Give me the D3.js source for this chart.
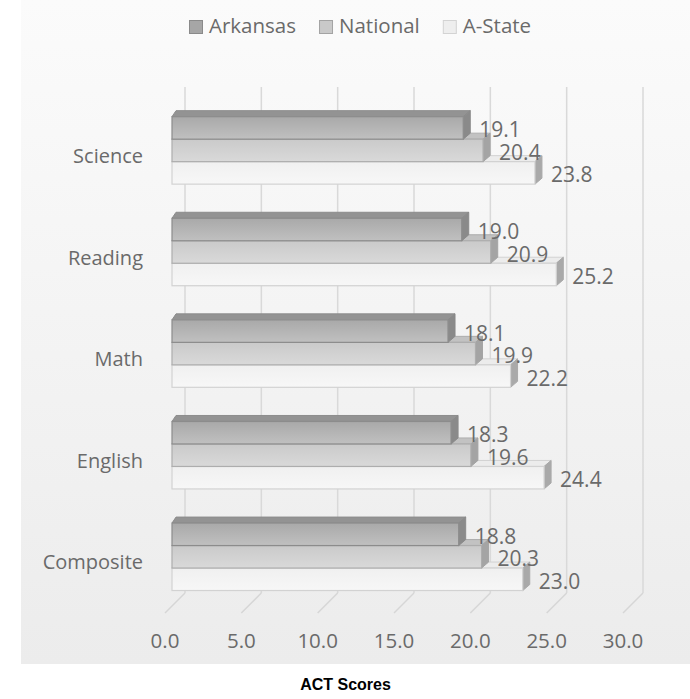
<!DOCTYPE html>
<html><head><meta charset="utf-8">
<script src="https://cdn.jsdelivr.net/npm/d3@7"></script>
<style>html,body{margin:0;padding:0;background:#fff;}svg{display:block;}</style>
</head><body>
<script>
const categories = ["Science", "Reading", "Math", "English", "Composite"];
const seriesNames = ["Arkansas", "National", "A-State"];
const arkansas = [19.1, 19.0, 18.1, 18.3, 18.8];
const national = [20.4, 20.9, 19.9, 19.6, 20.3];
const astate = [23.8, 25.2, 22.2, 24.4, 23.0];
const ticks = [0, 5, 10, 15, 20, 25, 30];
const title = "ACT Scores";

const series = [arkansas, national, astate];
const styles = [
  {top:"#a9a9a9", bot:"#c0c0c0", lid:"#939393", side:"#8a8a8a", stroke:"#8c8c8c", sw:"#a6a6a6", swb:"#8a8a8a"},
  {top:"#cacaca", bot:"#d9d9d9", lid:"#c2c2c2", side:"#a4a4a4", stroke:"#adadad", sw:"#c9c9c9", swb:"#a3a3a3"},
  {top:"#f0f0f0", bot:"#f7f7f7", lid:"#ececec", side:"#a9a9a9", stroke:"#d2d2d2", sw:"#eeeeee", swb:"#d3d3d3"}
];

const W = 690, H = 699;
const svg = d3.select("body").append("svg").attr("width", W).attr("height", H);
const defs = svg.append("defs");
const bg = defs.append("linearGradient").attr("id","bg").attr("x1",0).attr("y1",0).attr("x2",0).attr("y2",1);
bg.append("stop").attr("offset","0%").attr("stop-color","#fbfbfb");
bg.append("stop").attr("offset","100%").attr("stop-color","#ececec");
styles.forEach((s,i)=>{
  const g = defs.append("linearGradient").attr("id","g"+i).attr("x1",0).attr("y1",0).attr("x2",0).attr("y2",1);
  g.append("stop").attr("offset","0%").attr("stop-color",s.top);
  g.append("stop").attr("offset","100%").attr("stop-color",s.bot);
});

svg.append("rect").attr("x",21).attr("y",0).attr("width",W-21).attr("height",664).attr("fill","url(#bg)");

const font = "'Open Sans', 'Noto Sans', sans-serif";
const textCol = "#6a6a6a";

// scales
const xFront = d3.scaleLinear().domain([0,30]).range([172, 629.5]);
const xWall = d3.scaleLinear().domain([0,30]).range([185, 643]);
const xFloor = d3.scaleLinear().domain([0,30]).range([165, 623]);
const yBand = d3.scaleBand().domain(categories).range([99.6, 607.6]).paddingInner(0.336).paddingOuter(0.168);
const ySub = d3.scaleBand().domain(seriesNames).range([0, yBand.bandwidth()]);

const wallTop = 87, wallBot = 593, floorFront = 613;

// back wall gridlines
svg.append("g").selectAll("line").data(ticks).join("line")
  .attr("x1", d=>xWall(d)).attr("x2", d=>xWall(d))
  .attr("y1", wallTop).attr("y2", wallBot)
  .attr("stroke","#d9d9d9").attr("stroke-width",1.5);
// floor lines
svg.append("g").selectAll("line").data(ticks).join("line")
  .attr("x1", d=>xWall(d)).attr("x2", d=>xFloor(d))
  .attr("y1", wallBot).attr("y2", floorFront)
  .attr("stroke","#d6d6d6").attr("stroke-width",1.5);

// tick labels
svg.append("g").selectAll("text").data(ticks).join("text")
  .attr("x", d=>xFloor(d)).attr("y", 648)
  .attr("text-anchor","middle").attr("font-family",font).attr("font-size",20.5)
  .attr("fill",textCol).text(d=>d.toFixed(1));

// category labels
svg.append("g").selectAll("text").data(categories).join("text")
  .attr("x", 143).attr("y", d=>yBand(d)+yBand.bandwidth()/2+12.5)
  .attr("text-anchor","end").attr("font-family",font).attr("font-size",20)
  .attr("fill",textCol).text(d=>d);

// bars
const dxL = 4, dxR = 7, dy = 6;
const barsG = svg.append("g");
categories.forEach((cat, ci)=>{
  for (let si = series.length-1; si >= 0; si--) {
    const v = series[si][ci];
    const s = styles[si];
    const y0 = yBand(cat) + ySub(seriesNames[si]);
    const h = ySub.bandwidth();
    const x0 = xFront(0), x1 = xFront(v);
    const g = barsG.append("g");
    // top face
    g.append("path").attr("d", `M${x0},${y0} L${x0+dxL},${y0-dy} L${x1+dxR},${y0-dy} L${x1},${y0} Z`)
      .attr("fill", s.lid).attr("stroke", s.stroke).attr("stroke-width",1);
    // side face
    g.append("path").attr("d", `M${x1},${y0} L${x1+dxR},${y0-dy} L${x1+dxR},${y0+h-dy} L${x1},${y0+h} Z`)
      .attr("fill", s.side).attr("stroke", s.side).attr("stroke-width",1);
    // front face
    g.append("rect").attr("x", x0).attr("y", y0).attr("width", x1-x0).attr("height", h)
      .attr("fill", `url(#g${si})`).attr("stroke", s.stroke).attr("stroke-width",1.2);
  }
});

// value labels
const labG = svg.append("g");
categories.forEach((cat, ci)=>{
  series.forEach((arr, si)=>{
    const v = arr[ci];
    const yc = yBand(cat) + ySub(seriesNames[si]) + ySub.bandwidth()/2;
    labG.append("text").attr("x", xFront(v)+16).attr("y", yc+9.5)
      .attr("font-family",font).attr("font-size",21).attr("fill",textCol)
      .text(v.toFixed(1));
  });
});

// legend
const leg = svg.append("g");
let lx = 189;
seriesNames.forEach((n, i)=>{
  leg.append("rect").attr("x", lx+0.5).attr("y", 20.5).attr("width", 13).attr("height", 13)
    .attr("fill", styles[i].sw).attr("stroke", styles[i].swb).attr("stroke-width",1);
  const t = leg.append("text").attr("x", lx+20).attr("y", 33.3)
    .attr("font-family",font).attr("font-size",20.5).attr("fill",textCol).text(n);
  lx = lx + 20 + t.node().getComputedTextLength() + 23;
});

// title
svg.append("text").attr("x", 345.5).attr("y", 690).attr("text-anchor","middle")
  .attr("font-family","'Liberation Sans', Arial, sans-serif").attr("font-weight","bold")
  .attr("font-size",16).attr("fill","#000").text(title);
</script>
</body></html>
